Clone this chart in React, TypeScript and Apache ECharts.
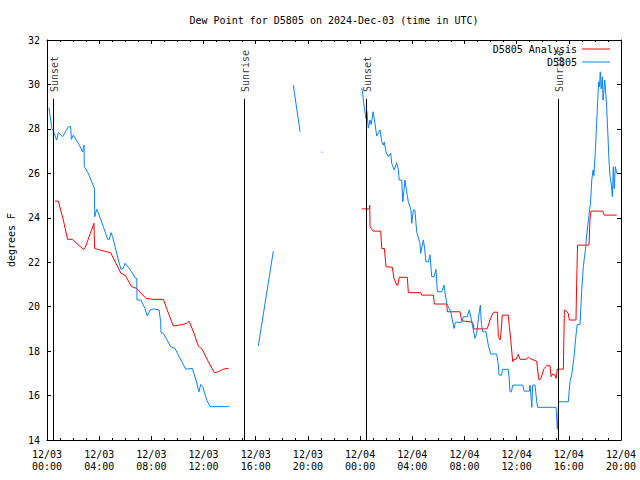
import React, { useEffect, useRef } from "react";
import * as echarts from "echarts";

const titleText = "Dew Point for D5805 on 2024-Dec-03 (time in UTC)";
const yAxisName = "degrees F";
const analysisName = "D5805 Analysis";
const stationName = "D5805";

// hours since 2024-12-03 00:00 UTC
const tickLabels = [
  "12/03\n00:00", "12/03\n04:00", "12/03\n08:00", "12/03\n12:00", "12/03\n16:00", "12/03\n20:00",
  "12/04\n00:00", "12/04\n04:00", "12/04\n08:00", "12/04\n12:00", "12/04\n16:00", "12/04\n20:00",
];

const sunNames = ["Sunset", "Sunrise", "Sunset", "Sunrise"];
const sunHours = [0.48, 15.12, 24.48, 39.2];

const stationHours = [
  0.15, 0.38, 0.45, 0.74, 0.87, 1.2, 1.64, 1.81, 1.87, 2.02, 2.48, 2.73, 2.84, 2.86, 3.17, 3.63, 3.66, 3.81, 3.9,
  4.32, 4.65, 4.78, 4.9, 5.03, 5.47, 5.67, 5.85, 5.98, 6.36, 6.8, 6.88, 6.9, 7.2, 7.51, 7.69, 7.9, 8.15, 8.59,
  8.71, 8.74, 8.92, 9.48, 9.81, 10.63, 11.14, 11.42, 11.65, 11.78, 11.94, 12.24, 12.5, 13.93, 13.95,
  15.0,
  16.2, 17.35,
  18.0,
  18.88, 19.4,
  20.5,
  21.05, 21.12,
  23.0,
  24.12, 24.18, 24.25, 24.35, 24.45, 24.52, 24.63, 24.76, 24.85, 25.0, 25.14, 25.27, 25.53, 25.66, 25.78, 25.85,
  25.99, 26.16, 26.35, 26.42, 26.62, 26.8, 26.93, 27.0, 27.19, 27.27, 27.44, 27.57, 27.7, 27.9, 27.96, 28.08,
  28.2, 28.34, 28.59, 28.64, 28.85, 28.95, 29.05, 29.23, 29.36, 29.49, 29.67, 29.82, 29.92, 30.26, 30.43, 30.64,
  30.76, 30.95, 31.2, 31.3, 31.79, 31.92, 32.22, 32.37, 32.5, 32.68, 32.81, 32.94, 33.1, 33.22, 33.3, 33.4,
  33.65, 33.83, 34.01, 34.47, 34.6, 34.65, 34.86, 34.9, 35.36, 35.44, 35.49, 35.6, 35.7, 36.47, 36.57, 36.97,
  37.03, 37.1, 37.16, 37.23, 37.41, 37.54, 37.61, 39.02, 39.07, 39.12, 39.17, 39.22, 39.96, 40.09, 40.22, 40.4,
  40.55, 40.65, 40.86, 40.99, 41.11, 41.19, 41.3, 41.37, 41.5, 41.6, 41.66, 41.76, 41.86, 41.92, 42.01, 42.11,
  42.21, 42.29, 42.35, 42.41, 42.48, 42.57, 42.62, 42.68, 42.75, 42.82, 42.9, 42.98, 43.08, 43.16, 43.26, 43.34,
  43.41, 43.48, 43.57, 43.67,
];
const stationValues = [
  28.95, 28.0, 27.95, 27.5, 27.83, 27.65, 28.1, 28.1, 27.53, 27.72, 27.27, 26.97, 27.27, 26.3, 26.0, 25.33, 24.05, 24.38, 24.27,
  23.6, 23.03, 23.03, 23.33, 23.15, 22.1, 21.68, 21.73, 21.95, 21.68, 21.27, 21.27, 20.3, 20.3, 19.92, 19.58, 19.85, 19.9, 19.85,
  19.32, 18.84, 18.8, 18.2, 18.12, 17.19, 17.22, 16.7, 16.17, 16.5, 16.4, 15.8, 15.5, 15.5, 15.55,
  null,
  18.24, 22.5,
  null,
  29.97, 27.87,
  null,
  26.95, 26.95,
  null,
  29.83, 29.67, 29.3, 28.85, 28.47, 28.8, 28.03, 28.4, 28.2, 28.77, 28.25, 27.68, 27.95, 27.42, 27.27, 27.4,
  26.97, 26.75, 26.9, 26.45, 26.15, 26.48, 26.18, 25.7, 25.7, 24.72, 25.7, 25.17, 24.72, 24.35, 23.75, 24.35,
  24.35, 23.37, 22.85, 22.4, 23.0, 22.6, 22.02, 22.02, 22.33, 21.35, 21.35, 21.68, 20.67, 20.67, 20.97, 20.15,
  20.0, 19.77, 19.02, 19.3, 19.3, 19.55, 19.55, 19.85, 19.5, 18.95, 18.57, 18.8, 19.62, 20.07, 19.2, 18.87,
  18.87, 18.27, 17.87, 17.87, 17.37, 16.92, 16.92, 17.18, 17.18, 16.7, 16.17, 16.17, 16.47, 16.47, 16.2, 16.2,
  16.47, 15.98, 15.47, 16.47, 16.47, 15.72, 15.47, 15.47, 14.97, 14.48, 15.12, 15.72, 15.72, 16.62, 16.92, 17.75,
  18.72, 19.2, 19.2, 20.75, 21.8, 22.17, 22.7, 23.22, 23.9, 24.4, 24.65, 25.7, 26.15, 25.9, 26.75, 27.95,
  29.22, 30.12, 29.9, 30.57, 29.8, 30.35, 29.3, 29.6, 30.2, 29.7, 29.0, 27.95, 26.6, 25.85, 25.47, 24.95,
  26.3, 25.3, 26.3, 26.0,
];

const analysisHours = [
  0.61, 0.87, 1.25, 1.58, 1.94, 2.79, 2.9, 3.25, 3.6, 3.65, 4.06, 4.57, 4.88, 5.67, 5.98, 6.49, 6.88, 7.59, 8.15,
  8.92, 9.17, 9.68, 10.45, 10.79, 10.89, 11.27, 11.6, 11.9, 12.37, 12.83, 13.13, 13.47, 13.82, 13.93,
  18.0,
  24.12, 24.72, 24.74, 24.76, 24.85, 25.0, 25.58, 25.66, 25.86, 25.99, 26.47, 26.6, 26.81, 26.9, 27.0, 27.62,
  27.7, 28.64, 28.72, 29.62, 29.69, 30.64, 30.69, 31.66, 31.79, 32.0, 32.63, 32.73, 33.65, 33.75, 33.96, 34.17,
  34.27, 34.52, 34.6, 34.73, 34.8, 34.9, 35.36, 35.44, 35.54, 35.62, 35.7, 35.8, 35.95, 36.13, 36.26, 36.72,
  36.9, 37.15, 37.54, 37.61, 37.72, 37.85, 38.1, 38.31, 38.56, 38.64, 38.76, 38.94, 39.02, 39.12, 39.58, 39.66,
  39.8, 39.96, 40.04, 40.55, 40.6, 40.67, 41.55, 41.62, 41.7, 42.6, 42.72, 43.67,
];
const analysisValues = [
  24.75, 24.75, 23.9, 23.03, 23.03, 22.58, 22.62, 23.18, 23.75, 22.62, 22.55, 22.47, 22.43, 21.5, 21.42, 20.9, 20.82, 20.37, 20.33,
  20.33, 19.92, 19.13, 19.2, 19.28, 19.35, 18.8, 18.23, 18.08, 17.52, 17.03, 17.07, 17.18, 17.22, 17.22,
  null,
  24.4, 24.4, 24.57, 23.6, 23.52, 23.4, 23.4, 22.62, 22.62, 21.8, 21.77, 21.27, 20.97, 20.97, 21.32, 21.32,
  20.63, 20.63, 20.52, 20.52, 20.12, 20.12, 19.77, 19.77, 19.37, 19.35, 19.3, 19.0, 19.0, 19.02, 19.4, 19.7,
  19.75, 19.75, 18.65, 18.5, 18.8, 19.62, 19.62, 19.1, 18.57, 18.05, 17.52, 17.63, 17.63, 17.85, 17.63, 17.63,
  17.72, 17.63, 17.55, 17.15, 16.7, 16.75, 17.22, 17.34, 17.34, 16.85, 16.97, 16.92, 16.77, 17.19, 17.19, 19.85,
  19.8, 19.7, 19.4, 19.4, 21.05, 22.77, 22.77, 23.9, 24.3, 24.3, 24.12, 24.12,
];

const FONT = "'DejaVu Sans Mono', 'Liberation Mono', monospace";
const RED = "#ff0000";
const BLUE = "#0a80ff";

export default function App() {
  const ref = useRef<HTMLDivElement>(null);

  useEffect(() => {
    if (!ref.current) return;
    const chart = echarts.init(ref.current, undefined, { renderer: "svg" });

    const stationData = stationHours.map((h, i) => [h, stationValues[i] === null ? "-" : stationValues[i]]);
    const analysisData = analysisHours.map((h, i) => [h, analysisValues[i] === null ? "-" : analysisValues[i]]);

    const axisCommon = {
      type: "value" as const,
      axisLine: { show: true, onZero: false, lineStyle: { color: "#000", width: 1 } },
      splitLine: { show: false },
    };
    const lineIcon = "path://M0,0h28v1h-28z";

    chart.setOption({
      animation: false,
      backgroundColor: "#fff",
      textStyle: { fontFamily: FONT },
      grid: { left: 47, right: 19, top: 40, bottom: 40, containLabel: false, outerBoundsMode: "none" },
      graphic: [
        {
          type: "text",
          x: 334,
          y: 20,
          style: {
            text: titleText,
            font: `10px ${FONT}`,
            fill: "#000",
            textAlign: "center",
            textVerticalAlign: "middle",
          },
        },
      ],
      legend: {
        data: [
          { name: analysisName, icon: lineIcon },
          { name: stationName, icon: lineIcon },
        ],
        orient: "vertical",
        right: 30,
        top: 44,
        padding: 0,
        align: "right",
        itemWidth: 28,
        itemHeight: 10,
        itemGap: 3,
        symbolKeepAspect: true,
        textStyle: { fontFamily: FONT, fontSize: 10, color: "#000" },
      },
      xAxis: [
        {
          ...axisCommon,
          position: "bottom",
          min: 0,
          max: 44,
          interval: 4,
          axisTick: { show: true, inside: true, length: 4, lineStyle: { color: "#000" } },
          minorTick: { show: true, splitNumber: 4, length: 2, lineStyle: { color: "#000" } },
          axisLabel: {
            show: true,
            color: "#000",
            fontFamily: FONT,
            fontSize: 10,
            lineHeight: 12,
            margin: 8,
            formatter: (v: number) => tickLabels[Math.round(v / 4)] ?? "",
          },
        },
        {
          ...axisCommon,
          position: "top",
          min: 0,
          max: 44,
          interval: 4,
          axisTick: { show: true, inside: true, length: 4, lineStyle: { color: "#000" } },
          minorTick: { show: true, splitNumber: 4, length: 2, lineStyle: { color: "#000" } },
          axisLabel: { show: false },
        },
      ],
      yAxis: [
        {
          ...axisCommon,
          position: "left",
          min: 14,
          max: 32,
          interval: 2,
          name: yAxisName,
          nameLocation: "middle",
          nameGap: 31,
          nameRotate: 90,
          nameTextStyle: { color: "#000", fontFamily: FONT, fontSize: 10 },
          axisTick: { show: true, inside: true, length: 4, lineStyle: { color: "#000" } },
          axisLabel: { show: true, color: "#000", fontFamily: FONT, fontSize: 10, margin: 7 },
        },
        {
          ...axisCommon,
          position: "right",
          min: 14,
          max: 32,
          interval: 2,
          axisTick: { show: true, inside: true, length: 4, lineStyle: { color: "#000" } },
          axisLabel: { show: false },
        },
      ],
      series: [
        {
          name: "sun",
          type: "line",
          data: [],
          silent: true,
          markLine: {
            silent: true,
            symbol: ["none", "none"],
            label: { show: false },
            lineStyle: { color: "#000", width: 1, type: "solid" },
            data: sunHours.map((h) => [{ coord: [h, 29.35] }, { coord: [h, 14] }]),
          },
        },
        {
          name: "sunLabels",
          type: "scatter",
          symbolSize: 0,
          silent: true,
          data: sunHours.map((h, i) => [h, 29.66, sunNames[i]]),
          label: {
            show: true,
            position: [1, 0],
            rotate: 90,
            align: "left",
            verticalAlign: "middle",
            color: "#000",
            fontFamily: FONT,
            fontSize: 10,
            formatter: (p: any) => p.value[2],
          },
        },
        {
          name: analysisName,
          type: "line",
          data: analysisData,
          symbol: "none",
          showSymbol: false,
          connectNulls: false,
          color: RED,
          lineStyle: { color: RED, width: 1 },
        },
        {
          name: stationName,
          type: "line",
          data: stationData,
          symbol: "none",
          showSymbol: false,
          connectNulls: false,
          color: BLUE,
          lineStyle: { color: BLUE, width: 1 },
        },
      ],
    });

    return () => chart.dispose();
  }, []);

  return <div ref={ref} style={{ width: 640, height: 480, position: "absolute", left: 0, top: 0 }} />;
}
